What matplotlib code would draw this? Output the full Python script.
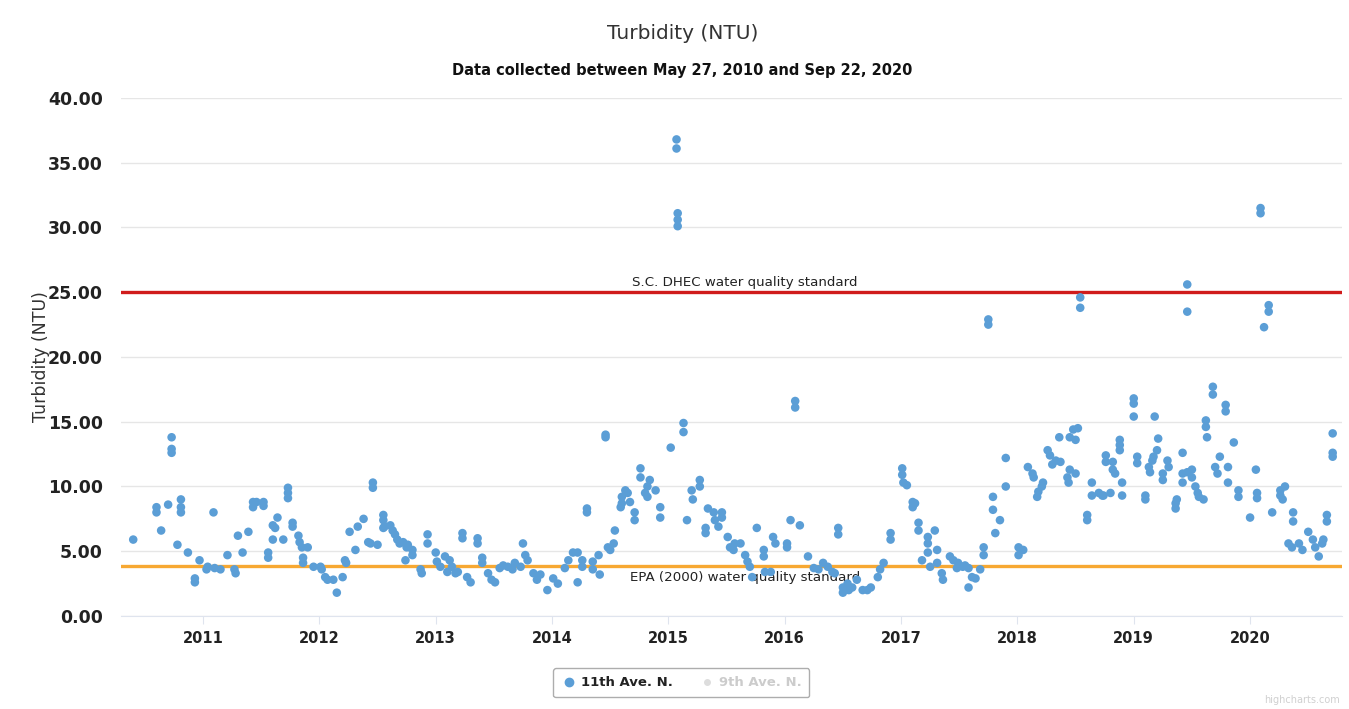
import matplotlib
matplotlib.use("Agg")
import matplotlib.pyplot as plt
from matplotlib.lines import Line2D

# sample dates (decimal years) and turbidity readings
sample_year = [
    2010.40, 2010.60, 2010.60, 2010.64, 2010.70, 2010.73, 2010.73, 2010.73, 2010.78, 2010.81, 2010.81, 2010.81,
    2010.87, 2010.93, 2010.93, 2010.97,
    2011.03, 2011.04, 2011.09, 2011.10, 2011.15, 2011.21, 2011.27, 2011.28, 2011.30, 2011.34, 2011.39, 2011.43,
    2011.43, 2011.46, 2011.52, 2011.52, 2011.56, 2011.56, 2011.60, 2011.62, 2011.64, 2011.60, 2011.69, 2011.73,
    2011.73, 2011.73, 2011.77, 2011.77, 2011.82, 2011.83, 2011.85, 2011.90, 2011.86, 2011.86, 2011.95,
    2012.01, 2012.02, 2012.05, 2012.07, 2012.12, 2012.15, 2012.20, 2012.22, 2012.23, 2012.26, 2012.31, 2012.33,
    2012.38, 2012.42, 2012.46, 2012.46, 2012.44, 2012.50, 2012.55, 2012.55, 2012.56, 2012.61, 2012.63, 2012.55,
    2012.65, 2012.67, 2012.69, 2012.72, 2012.75, 2012.76, 2012.80, 2012.80, 2012.74, 2012.88, 2012.87, 2012.93,
    2012.93,
    2013.00, 2013.01, 2013.04, 2013.08, 2013.10, 2013.12, 2013.17, 2013.14, 2013.19, 2013.23, 2013.23, 2013.27,
    2013.30, 2013.36, 2013.36, 2013.40, 2013.40, 2013.45, 2013.48, 2013.51, 2013.55, 2013.58, 2013.62, 2013.66,
    2013.68, 2013.73, 2013.77, 2013.79, 2013.75, 2013.84, 2013.87, 2013.90, 2013.96,
    2014.01, 2014.05, 2014.11, 2014.14, 2014.18, 2014.22, 2014.26, 2014.26, 2014.22, 2014.30, 2014.30, 2014.35,
    2014.35, 2014.40, 2014.41, 2014.46, 2014.46, 2014.48, 2014.50, 2014.53, 2014.54, 2014.59, 2014.60, 2014.63,
    2014.65, 2014.67, 2014.60, 2014.71, 2014.71, 2014.76, 2014.76, 2014.80, 2014.82, 2014.84, 2014.89, 2014.82,
    2014.93, 2014.93,
    2015.02, 2015.07, 2015.07, 2015.08, 2015.08, 2015.08, 2015.13, 2015.13, 2015.16, 2015.20, 2015.21, 2015.27,
    2015.27, 2015.32, 2015.32, 2015.34, 2015.39, 2015.40, 2015.43, 2015.46, 2015.46, 2015.51, 2015.53, 2015.56,
    2015.57, 2015.62, 2015.66, 2015.68, 2015.70, 2015.72, 2015.76, 2015.82, 2015.82, 2015.83, 2015.88, 2015.90,
    2015.92,
    2016.02, 2016.02, 2016.05, 2016.13, 2016.09, 2016.09, 2016.20, 2016.25, 2016.29, 2016.33, 2016.37, 2016.41,
    2016.43, 2016.46, 2016.46, 2016.50, 2016.54, 2016.55, 2016.50, 2016.58, 2016.62, 2016.67, 2016.71, 2016.74,
    2016.80, 2016.82, 2016.85, 2016.91, 2016.91,
    2017.01, 2017.01, 2017.02, 2017.05, 2017.10, 2017.12, 2017.10, 2017.15, 2017.15, 2017.18, 2017.23, 2017.23,
    2017.23, 2017.25, 2017.29, 2017.31, 2017.31, 2017.35, 2017.36, 2017.42, 2017.45, 2017.49, 2017.53, 2017.55,
    2017.58, 2017.48, 2017.58, 2017.61, 2017.64, 2017.68, 2017.71, 2017.71, 2017.75, 2017.75, 2017.79, 2017.79,
    2017.81, 2017.85, 2017.90, 2017.90,
    2018.01, 2018.01, 2018.05, 2018.09, 2018.13, 2018.14, 2018.17, 2018.18, 2018.21, 2018.22, 2018.26, 2018.28,
    2018.30, 2018.33, 2018.37, 2018.36, 2018.43, 2018.45, 2018.44, 2018.50, 2018.45, 2018.48, 2018.50, 2018.52,
    2018.54, 2018.54, 2018.60, 2018.60, 2018.64, 2018.64, 2018.70, 2018.73, 2018.74, 2018.80, 2018.76, 2018.76,
    2018.82, 2018.82, 2018.84, 2018.88, 2018.88, 2018.88, 2018.90, 2018.90,
    2019.00, 2019.00, 2019.00, 2019.03, 2019.03, 2019.10, 2019.10, 2019.13, 2019.14, 2019.16, 2019.17, 2019.20,
    2019.21, 2019.18, 2019.25, 2019.25, 2019.29, 2019.30, 2019.36, 2019.36, 2019.37, 2019.42, 2019.42, 2019.42,
    2019.46, 2019.46, 2019.46, 2019.50, 2019.50, 2019.53, 2019.55, 2019.56, 2019.60, 2019.62, 2019.62, 2019.63,
    2019.68, 2019.68, 2019.74, 2019.70, 2019.72, 2019.79, 2019.79, 2019.81, 2019.81, 2019.86, 2019.90, 2019.90,
    2020.00, 2020.05, 2020.06, 2020.06, 2020.09, 2020.09, 2020.16, 2020.16, 2020.12, 2020.19, 2020.26, 2020.26,
    2020.30, 2020.28, 2020.37, 2020.37, 2020.33, 2020.36, 2020.42, 2020.45, 2020.50, 2020.54, 2020.56, 2020.59,
    2020.62, 2020.63, 2020.66, 2020.66, 2020.71, 2020.71, 2020.71,
]
turbidity = [
    5.9, 8.4, 8.0, 6.6, 8.6, 13.8, 12.9, 12.6, 5.5, 9.0, 8.4, 8.0,
    4.9, 2.9, 2.6, 4.3,
    3.6, 3.8, 8.0, 3.7, 3.6, 4.7, 3.6, 3.3, 6.2, 4.9, 6.5, 8.8,
    8.4, 8.8, 8.8, 8.5, 4.9, 4.5, 5.9, 6.8, 7.6, 7.0, 5.9, 9.9,
    9.5, 9.1, 7.2, 6.9, 6.2, 5.7, 5.3, 5.3, 4.5, 4.1, 3.8,
    3.8, 3.6, 3.0, 2.8, 2.8, 1.8, 3.0, 4.3, 4.1, 6.5, 5.1, 6.9,
    7.5, 5.7, 10.3, 9.9, 5.6, 5.5, 7.8, 7.4, 6.9, 7.0, 6.6, 6.8,
    6.3, 5.9, 5.6, 5.7, 5.3, 5.5, 5.1, 4.7, 4.3, 3.3, 3.6, 6.3,
    5.6,
    4.9, 4.2, 3.8, 4.6, 3.4, 4.3, 3.3, 3.8, 3.4, 6.4, 6.0, 3.0,
    2.6, 6.0, 5.6, 4.5, 4.1, 3.3, 2.8, 2.6, 3.7, 3.9, 3.8, 3.6,
    4.1, 3.8, 4.7, 4.3, 5.6, 3.3, 2.8, 3.2, 2.0,
    2.9, 2.5, 3.7, 4.3, 4.9, 4.9, 4.3, 3.8, 2.6, 8.3, 8.0, 4.2,
    3.6, 4.7, 3.2, 14.0, 13.8, 5.3, 5.1, 5.6, 6.6, 8.4, 9.2, 9.7,
    9.5, 8.8, 8.7, 8.0, 7.4, 11.4, 10.7, 9.5, 10.0, 10.5, 9.7, 9.2,
    8.4, 7.6,
    13.0, 36.8, 36.1, 31.1, 30.6, 30.1, 14.9, 14.2, 7.4, 9.7, 9.0, 10.5,
    10.0, 6.8, 6.4, 8.3, 8.0, 7.4, 6.9, 8.0, 7.6, 6.1, 5.3, 5.1,
    5.6, 5.6, 4.7, 4.2, 3.8, 3.0, 6.8, 5.1, 4.6, 3.4, 3.4, 6.1,
    5.6,
    5.6, 5.3, 7.4, 7.0, 16.6, 16.1, 4.6, 3.7, 3.6, 4.1, 3.8, 3.4,
    3.3, 6.8, 6.3, 2.2, 2.5, 2.0, 1.8, 2.2, 2.8, 2.0, 2.0, 2.2,
    3.0, 3.6, 4.1, 6.4, 5.9,
    11.4, 10.9, 10.3, 10.1, 8.8, 8.7, 8.4, 7.2, 6.6, 4.3, 6.1, 5.6,
    4.9, 3.8, 6.6, 5.1, 4.1, 3.3, 2.8, 4.6, 4.3, 4.1, 3.8, 3.9,
    3.7, 3.7, 2.2, 3.0, 2.9, 3.6, 5.3, 4.7, 22.9, 22.5, 9.2, 8.2,
    6.4, 7.4, 12.2, 10.0,
    5.3, 4.7, 5.1, 11.5, 11.0, 10.7, 9.2, 9.6, 10.0, 10.3, 12.8, 12.4,
    11.7, 12.0, 11.9, 13.8, 10.7, 11.3, 10.3, 11.0, 13.8, 14.4, 13.6, 14.5,
    24.6, 23.8, 7.8, 7.4, 10.3, 9.3, 9.5, 9.3, 9.3, 9.5, 12.4, 11.9,
    11.9, 11.3, 11.0, 13.6, 13.2, 12.8, 10.3, 9.3,
    16.8, 16.4, 15.4, 12.3, 11.8, 9.3, 9.0, 11.5, 11.1, 12.0, 12.3, 12.8,
    13.7, 15.4, 11.0, 10.5, 12.0, 11.5, 8.7, 8.3, 9.0, 12.6, 11.0, 10.3,
    11.1, 25.6, 23.5, 11.3, 10.7, 10.0, 9.5, 9.2, 9.0, 15.1, 14.6, 13.8,
    17.7, 17.1, 12.3, 11.5, 11.0, 16.3, 15.8, 11.5, 10.3, 13.4, 9.7, 9.2,
    7.6, 11.3, 9.5, 9.1, 31.5, 31.1, 24.0, 23.5, 22.3, 8.0, 9.7, 9.3,
    10.0, 9.0, 8.0, 7.3, 5.6, 5.3, 5.6, 5.1, 6.5, 5.9, 5.3, 4.6,
    5.6, 5.9, 7.8, 7.3, 14.1, 12.6, 12.3,
]

year_ticks = [2011, 2012, 2013, 2014, 2015, 2016, 2017, 2018, 2019, 2020]
y_ticks = [0, 5, 10, 15, 20, 25, 30, 35, 40]
dhec_standard = 25.0
epa_standard = 3.85

plt.rcParams['font.family'] = ['DejaVu Sans']

fig = plt.figure(figsize=(13.49, 7.09), dpi=100)
ax = fig.add_axes([0.0897, 0.1312, 0.9051, 0.7306])

ax.scatter(sample_year, turbidity, s=38, color='#5b9ed6', edgecolors='none', zorder=4, clip_on=False)

ax.axhline(dhec_standard, color='#d01c1c', lw=2.4, zorder=3)
ax.axhline(epa_standard, color='#f7a832', lw=2.4, zorder=3)
ax.text(2015.66, dhec_standard + 0.25, 'S.C. DHEC water quality standard', ha='center', va='bottom',
        fontsize=9.6, color='#222222', zorder=2)
ax.text(2015.66, epa_standard - 0.35, 'EPA (2000) water quality standard', ha='center', va='top',
        fontsize=9.6, color='#222222', zorder=2)

ax.set_xlim(2010.295, 2020.79)
ax.set_ylim(0, 40)
ax.set_yticks(y_ticks)
ax.set_yticklabels(['%.2f' % v for v in y_ticks])
ax.set_xticks(year_ticks)
ax.set_xticklabels([str(y) for y in year_ticks])
ax.grid(axis='y', color='#e6e6e6', lw=1)
ax.set_axisbelow(True)
for side in ['top', 'right', 'left']:
    ax.spines[side].set_visible(False)
ax.spines['bottom'].set_color('#dfe4ee')
ax.tick_params(axis='y', length=0, pad=13, labelsize=12.5, labelcolor='#222222')
ax.tick_params(axis='x', length=6, color='#dfe4ee', pad=5, labelsize=10.5, labelcolor='#222222')
for lbl in ax.get_yticklabels() + ax.get_xticklabels():
    lbl.set_fontweight('bold')

fig.text(41 / 1349, 0.4965, 'Turbidity (NTU)', rotation=90, ha='center', va='center',
         fontsize=12.5, color='#333333')

fig.text(0.506, 0.953, 'Turbidity (NTU)', ha='center', va='center', fontsize=14.5, color='#333333')
fig.text(0.506, 0.9, 'Data collected between May 27, 2010 and Sep 22, 2020', ha='center', va='center',
         fontsize=10.5, fontweight='bold', color='#111111')

handles = [
    Line2D([], [], ls='none', marker='o', ms=6, color='#5b9ed6'),
    Line2D([], [], ls='none', marker='o', ms=4, color='#dddddd'),
]
leg = fig.legend(handles, ['11th Ave. N.', '9th Ave. N.'], loc='center', bbox_to_anchor=(0.505, 0.037),
                 ncol=2, frameon=True, fancybox=True, edgecolor='#999999', fontsize=9.5,
                 handletextpad=0.3, columnspacing=2.0, borderpad=0.6, handlelength=1.2)
leg.get_frame().set_linewidth(1.0)
for txt, col in zip(leg.get_texts(), ['#222222', '#cccccc']):
    txt.set_color(col)
    txt.set_fontweight('bold')

fig.text(0.993, 0.005, 'highcharts.com', ha='right', va='bottom', fontsize=7, color='#d0d0d0')

fig.savefig('out.png', dpi=100)
